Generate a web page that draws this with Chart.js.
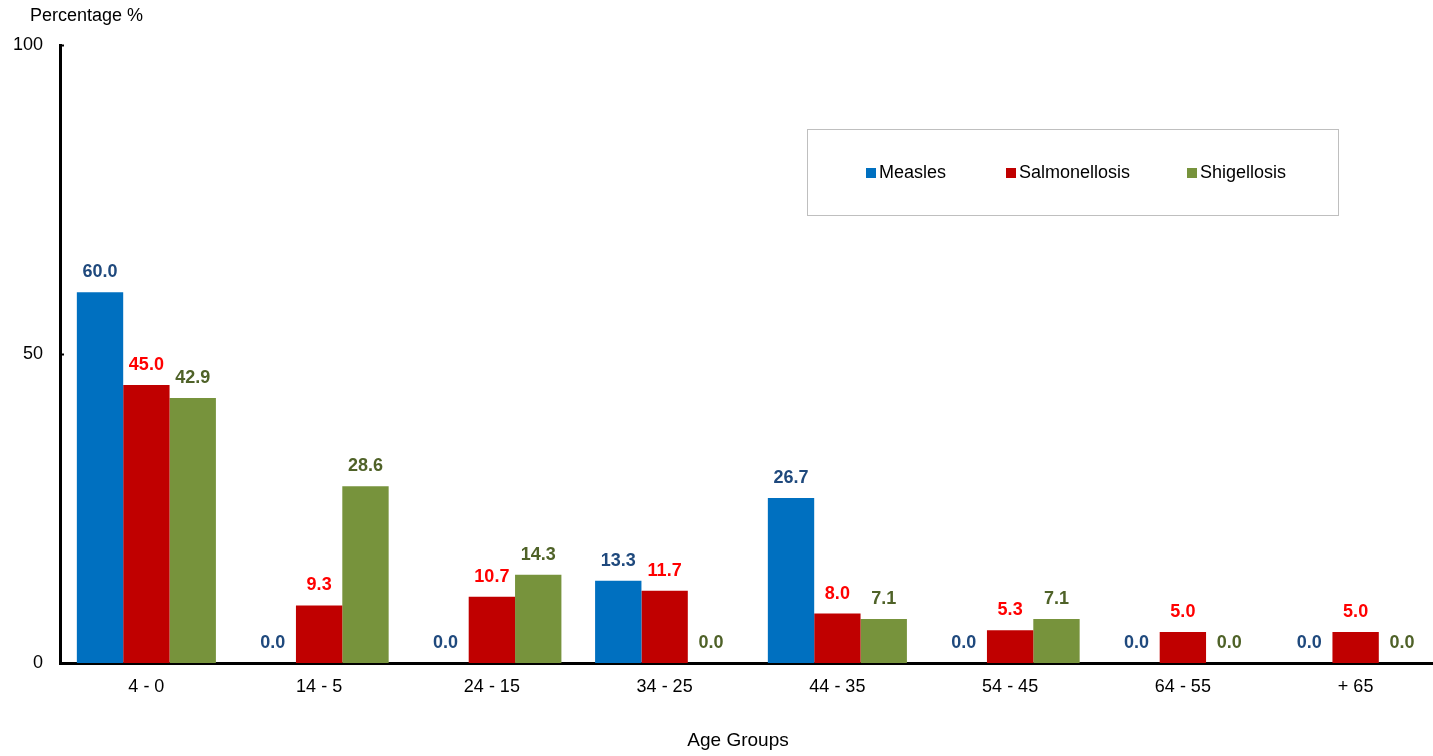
<!DOCTYPE html>
<html>
<head>
<meta charset="utf-8">
<script src="https://cdn.jsdelivr.net/npm/chart.js@4.4.1/dist/chart.umd.min.js"></script>
<style>
  html, body { margin: 0; padding: 0; background: #fff; overflow: hidden; }
  #wrap { width: 1443px; height: 756px; }
</style>
</head>
<body>
<div id="wrap"><canvas id="c" width="1443" height="756"></canvas></div>
<script>
const categories = ['4 - 0', '14 - 5', '24 - 15', '34 - 25', '44 - 35', '54 - 45', '64 - 55', '+ 65'];
const measles = [60.0, 0.0, 0.0, 13.3, 26.7, 0.0, 0.0, 0.0];
const salmonellosis = [45.0, 9.3, 10.7, 11.7, 8.0, 5.3, 5.0, 5.0];
const shigellosis = [42.9, 28.6, 14.3, 0.0, 7.1, 7.1, 0.0, 0.0];
const seriesNames = ['Measles', 'Salmonellosis', 'Shigellosis'];
const yTicks = [0, 50, 100];
const yTitle = 'Percentage %';
const xTitle = 'Age Groups';

const FONT = '"Liberation Sans", Arial, sans-serif';
const barColors = ['#0070C0', '#C00000', '#77933C'];
const labelColors = ['#1F497D', '#FF0000', '#4F6228'];

const overlay = {
  id: 'overlay',
  afterDatasetsDraw(chart) {
    const ctx = chart.ctx;
    ctx.save();
    // data labels
    ctx.font = 'bold 18px ' + FONT;
    ctx.textAlign = 'center';
    ctx.textBaseline = 'middle';
    chart.data.datasets.forEach((ds, di) => {
      const meta = chart.getDatasetMeta(di);
      meta.data.forEach((bar, i) => {
        ctx.fillStyle = labelColors[di];
        ctx.fillText(ds.data[i].toFixed(1), bar.x, bar.y - 20);
      });
    });
    // small inner ticks on y axis
    const ys = chart.scales.y;
    ctx.strokeStyle = '#000';
    ctx.lineWidth = 2;
    yTicks.forEach(v => {
      if (v === 0) return;
      const y = Math.round(ys.getPixelForValue(v)) + 0.5;
      ctx.beginPath();
      ctx.moveTo(60, y);
      ctx.lineTo(64, y);
      ctx.stroke();
    });
    // titles
    ctx.fillStyle = '#000';
    ctx.font = '18px ' + FONT;
    ctx.textAlign = 'left';
    ctx.fillText(yTitle, 30, 16);
    ctx.font = '19px ' + FONT;
    ctx.textAlign = 'center';
    ctx.fillText(xTitle, 738, 741);
    // legend
    ctx.strokeStyle = '#BFBFBF';
    ctx.lineWidth = 1;
    ctx.strokeRect(807.5, 129.5, 531, 86);
    const itemX = [866, 1006, 1187];
    ctx.font = '18px ' + FONT;
    ctx.textAlign = 'left';
    seriesNames.forEach((n, i) => {
      ctx.fillStyle = barColors[i];
      ctx.fillRect(itemX[i], 168, 10, 10);
      ctx.fillStyle = '#000';
      ctx.fillText(n, itemX[i] + 13, 173);
    });
    ctx.restore();
  }
};

new Chart(document.getElementById('c'), {
  type: 'bar',
  data: {
    labels: categories,
    datasets: [
      { label: seriesNames[0], data: measles, backgroundColor: barColors[0] },
      { label: seriesNames[1], data: salmonellosis, backgroundColor: barColors[1] },
      { label: seriesNames[2], data: shigellosis, backgroundColor: barColors[2] }
    ]
  },
  options: {
    responsive: false,
    animation: false,
    devicePixelRatio: 1,
    layout: { padding: { left: 0, top: 45, right: 1, bottom: 0 } },
    datasets: { bar: { categoryPercentage: 0.805, barPercentage: 1.0 } },
    plugins: { legend: { display: false }, tooltip: { enabled: false } },
    scales: {
      x: {
        grid: { display: false, drawTicks: false },
        border: { display: true, color: '#000', width: 3 },
        ticks: { color: '#000', font: { size: 18, family: FONT }, padding: 13, maxRotation: 0, autoSkip: false },
        afterFit(s) { s.height = 93; }
      },
      y: {
        min: 0, max: 100,
        afterBuildTicks(s) { s.ticks = yTicks.map(v => ({ value: v })); },
        grid: { display: false, drawTicks: false },
        border: { display: true, color: '#000', width: 3 },
        ticks: { color: '#000', font: { size: 18, family: FONT }, padding: 17 },
        afterFit(s) { s.width = 60; }
      }
    }
  },
  plugins: [overlay]
});
</script>
</body>
</html>
